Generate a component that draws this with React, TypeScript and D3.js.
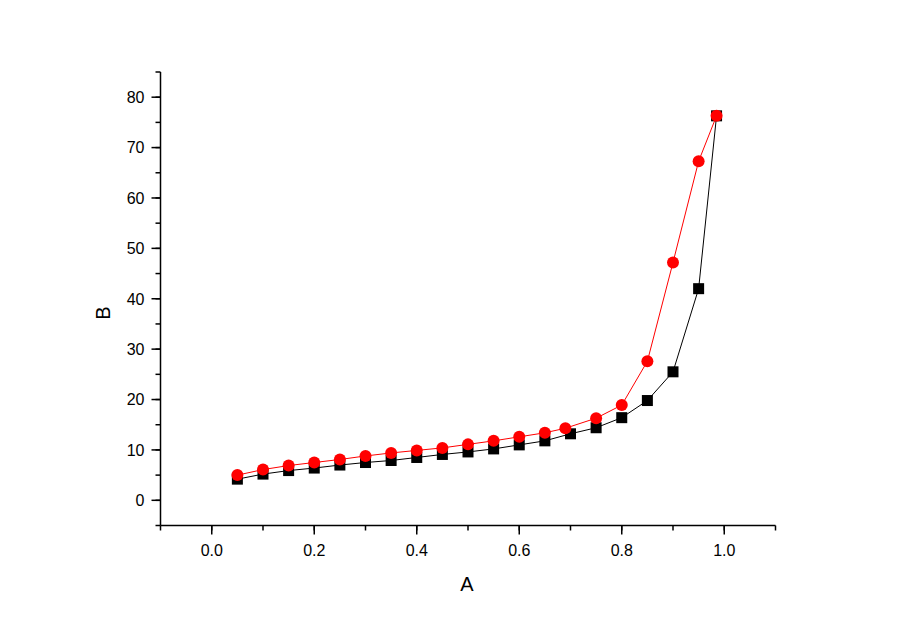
import React, { useEffect, useRef } from 'react';
import * as d3 from 'd3';

// black squares
const xBlack = [0.05, 0.1, 0.15, 0.2, 0.25, 0.3, 0.35, 0.4, 0.45, 0.5, 0.55, 0.6, 0.65, 0.7, 0.75, 0.8, 0.85, 0.9, 0.95, 0.985];
const yBlack = [4.2, 5.2, 5.9, 6.4, 7.0, 7.5, 7.9, 8.5, 9.1, 9.6, 10.2, 11.0, 11.8, 13.2, 14.4, 16.4, 19.8, 25.5, 42.0, 76.3];

// red circles
const xRed = [0.05, 0.1, 0.15, 0.2, 0.25, 0.3, 0.35, 0.4, 0.45, 0.5, 0.55, 0.6, 0.65, 0.69, 0.75, 0.8, 0.85, 0.9, 0.95, 0.985];
const yRed = [5.0, 6.1, 6.9, 7.5, 8.1, 8.8, 9.4, 9.9, 10.4, 11.1, 11.8, 12.6, 13.4, 14.3, 16.3, 18.9, 27.6, 47.2, 67.3, 76.3];

const xTicks = [0.0, 0.2, 0.4, 0.6, 0.8, 1.0];
const yTicks = [0, 10, 20, 30, 40, 50, 60, 70, 80];

export default function App() {
  const ref = useRef<SVGSVGElement>(null);

  useEffect(() => {
    const svg = d3.select(ref.current);
    svg.selectAll('*').remove();

    const x = d3.scaleLinear().domain([-0.1, 1.1]).range([160.5, 775.5]);
    const y = d3.scaleLinear().domain([-5, 85]).range([525.5, 72]);
    const font = 'Arial, "Liberation Sans", sans-serif';

    // x axis, major ticks labelled, minor ticks between
    const xMinor = d3.range(-0.1, 1.1001, 0.1);
    const gx = svg.append('g').attr('transform', 'translate(0,525.5)');
    gx.append('line').attr('x1', 160.5).attr('x2', 775.5).attr('stroke', '#000').attr('stroke-width', 1.5);
    gx.selectAll('.minor').data(xMinor).enter().append('line')
      .attr('x1', d => x(d)).attr('x2', d => x(d)).attr('y1', 0).attr('y2', 5)
      .attr('stroke', '#000').attr('stroke-width', 1.5);
    gx.selectAll('.major').data(xTicks).enter().append('line')
      .attr('x1', d => x(d)).attr('x2', d => x(d)).attr('y1', 0).attr('y2', 9)
      .attr('stroke', '#000').attr('stroke-width', 1.5);
    gx.selectAll('text').data(xTicks).enter().append('text')
      .attr('x', d => x(d)).attr('y', 30)
      .attr('text-anchor', 'middle').attr('font-family', font).attr('font-size', 16)
      .text(d => d3.format('.1f')(d));

    // y axis
    const yMinor = d3.range(-5, 85.01, 5);
    const gy = svg.append('g').attr('transform', 'translate(160.5,0)');
    gy.append('line').attr('y1', 72).attr('y2', 525.5).attr('stroke', '#000').attr('stroke-width', 1.5);
    gy.selectAll('.minor').data(yMinor).enter().append('line')
      .attr('y1', d => y(d)).attr('y2', d => y(d)).attr('x1', 0).attr('x2', -5)
      .attr('stroke', '#000').attr('stroke-width', 1.5);
    gy.selectAll('.major').data(yTicks).enter().append('line')
      .attr('y1', d => y(d)).attr('y2', d => y(d)).attr('x1', 0).attr('x2', -9)
      .attr('stroke', '#000').attr('stroke-width', 1.5);
    gy.selectAll('text').data(yTicks).enter().append('text')
      .attr('x', -16).attr('y', d => y(d)).attr('dy', '0.36em')
      .attr('text-anchor', 'end').attr('font-family', font).attr('font-size', 16)
      .text(d => d);

    // axis titles
    svg.append('text').attr('x', 467).attr('y', 591)
      .attr('text-anchor', 'middle').attr('font-family', font).attr('font-size', 20).text('A');
    svg.append('text').attr('transform', 'translate(110,313) rotate(-90)')
      .attr('text-anchor', 'middle').attr('font-family', font).attr('font-size', 20).text('B');

    const line = d3.line<[number, number]>().x(d => x(d[0])).y(d => y(d[1]));
    const black: [number, number][] = xBlack.map((v, i) => [v, yBlack[i]]);
    const red: [number, number][] = xRed.map((v, i) => [v, yRed[i]]);

    svg.append('path').datum(black).attr('d', line).attr('fill', 'none').attr('stroke', '#000').attr('stroke-width', 1);
    svg.selectAll('.sq').data(black).enter().append('rect')
      .attr('x', d => x(d[0]) - 5.5).attr('y', d => y(d[1]) - 5.5)
      .attr('width', 11).attr('height', 11).attr('fill', '#000');

    svg.append('path').datum(red).attr('d', line).attr('fill', 'none').attr('stroke', '#ff0000').attr('stroke-width', 1);
    svg.selectAll('.ci').data(red).enter().append('circle')
      .attr('cx', d => x(d[0])).attr('cy', d => y(d[1])).attr('r', 6).attr('fill', '#ff0000');
  }, []);

  return (
    <svg ref={ref} width={900} height={630} style={{ position: 'absolute', left: 0, top: 0, background: '#fff' }} />
  );
}
